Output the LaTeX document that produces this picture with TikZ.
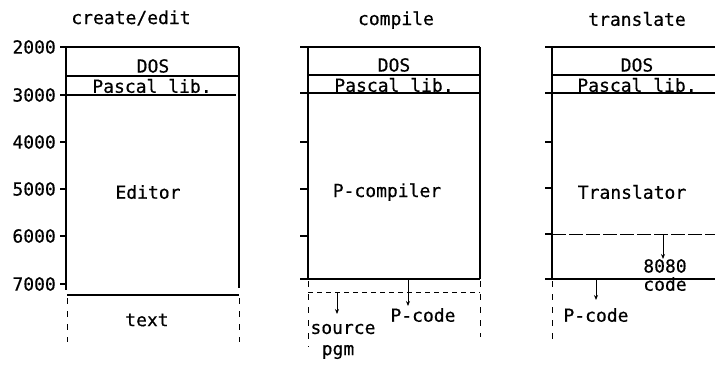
\documentclass[tikz,border=0pt]{standalone}
\usepackage{fontspec}
\setmainfont{DejaVu Sans Mono}
\newfontfamily\typefont[FakeBold=0.5]{DejaVu Sans Mono}
\usetikzlibrary{arrows.meta}
\begin{document}
\begin{tikzpicture}[x=1pt,y=-1pt,
  lbl/.style={font=\typefont\fontsize{18}{20}\selectfont, inner sep=0pt},
  num/.style={font=\typefont\fontsize{18}{20}\selectfont, inner sep=0pt, anchor=east},
  solid line/.style={line width=1.4pt},
  frame/.style={line width=1.1pt},
  dash line/.style={line width=0.9pt, dash pattern=on 5pt off 4pt},
  dash vert/.style={line width=0.9pt, dash pattern=on 6pt off 7pt},
  flow/.style={line width=0.9pt, -{Stealth[length=5pt,width=4pt]}}]
\useasboundingbox (0,0) rectangle (715,365);

% ---------- panel 1: create/edit ----------
\node[lbl] (t1) at (131,18) {create/edit};
\foreach \v/\y in {2000/47,3000/95,4000/142,5000/189,6000/236,7000/284}{
  \node[num] (n\v) at (56,\y) {\v};
}
\draw[frame] (60,47) -- (239,47);
\draw[frame] (66,47) -- (66,290);
\draw[frame] (239,47) -- (239,288);
\draw[frame] (66,76) -- (239,76);
\draw[frame] (60,95) -- (236,95);
\foreach \y in {142,189,236,284}{ \draw[frame] (60,\y) -- (66,\y); }
\draw[solid line] (67,295) -- (239,295);
\draw[dash vert] (67,298) -- (67,342);
\draw[dash vert] (239,298) -- (239,342);
\node[lbl] (dos1) at (153,66) {DOS};
\node[lbl] (pas1) at (152,86) {Pascal lib.};
\node[lbl] (ed) at (148,192) {Editor};
\node[lbl] (txt) at (147,320) {text};

% ---------- panel 2: compile ----------
\node[lbl] (t2) at (396,20) {compile};
\draw[frame] (300,47) -- (480,47);
\draw[frame] (308,47) -- (308,279);
\draw[frame] (480,47) -- (480,279);
\draw[frame] (308,75) -- (480,75);
\draw[frame] (300,93) -- (480,93);
\foreach \y in {142,189,236}{ \draw[frame] (300,\y) -- (308,\y); }
\draw[solid line] (300,279) -- (480,279);
\draw[dash line] (308,292) -- (480,292);
\draw[dash vert] (308,281) -- (308,347);
\draw[dash vert] (480,281) -- (480,337);
\node[lbl] (dos2) at (394,65) {DOS};
\node[lbl] (pas2) at (394,85) {Pascal lib.};
\node[lbl] (pc) at (387,192) {P-compiler};
\node[lbl] (pcode2) at (423,315) {P-code};
\node[lbl] (src) at (343,329) {source};
\node[lbl] (pgm) at (338,352) {pgm};
\coordinate (a2) at (408,279);
\coordinate (b2) at (337,292);
\draw[flow] (a2) -- (408,306);
\draw[flow] (b2) -- (337,314);

% ---------- panel 3: translate ----------
\node[lbl] (t3) at (637,19) {translate};
\draw[frame] (545,47) -- (715,47);
\draw[frame] (552,47) -- (552,279);
\draw[frame] (552,75) -- (715,75);
\draw[frame] (545,93) -- (715,93);
\foreach \y in {142,188}{ \draw[frame] (545,\y) -- (552,\y); }
\draw[frame] (545,234) -- (552,234);
\draw[dash line, dash pattern=on 14pt off 3pt] (552,234) -- (715,234);
\draw[solid line] (545,279) -- (715,279);
\draw[dash vert] (552,281) -- (552,342);
\node[lbl] (dos3) at (637,65) {DOS};
\node[lbl] (pas3) at (637,85) {Pascal lib.};
\node[lbl] (tr) at (632,192) {Translator};
\node[lbl] (c80) at (665,266) {8080};
\node[lbl] (cc) at (665,284) {code};
\node[lbl] (pcode3) at (596,315) {P-code};
\coordinate (a3) at (663,234);
\coordinate (b3) at (596,279);
\draw[flow] (a3) -- (c80.north -| a3);
\draw[flow] (b3) -- (596,300);
\end{tikzpicture}
\end{document}
